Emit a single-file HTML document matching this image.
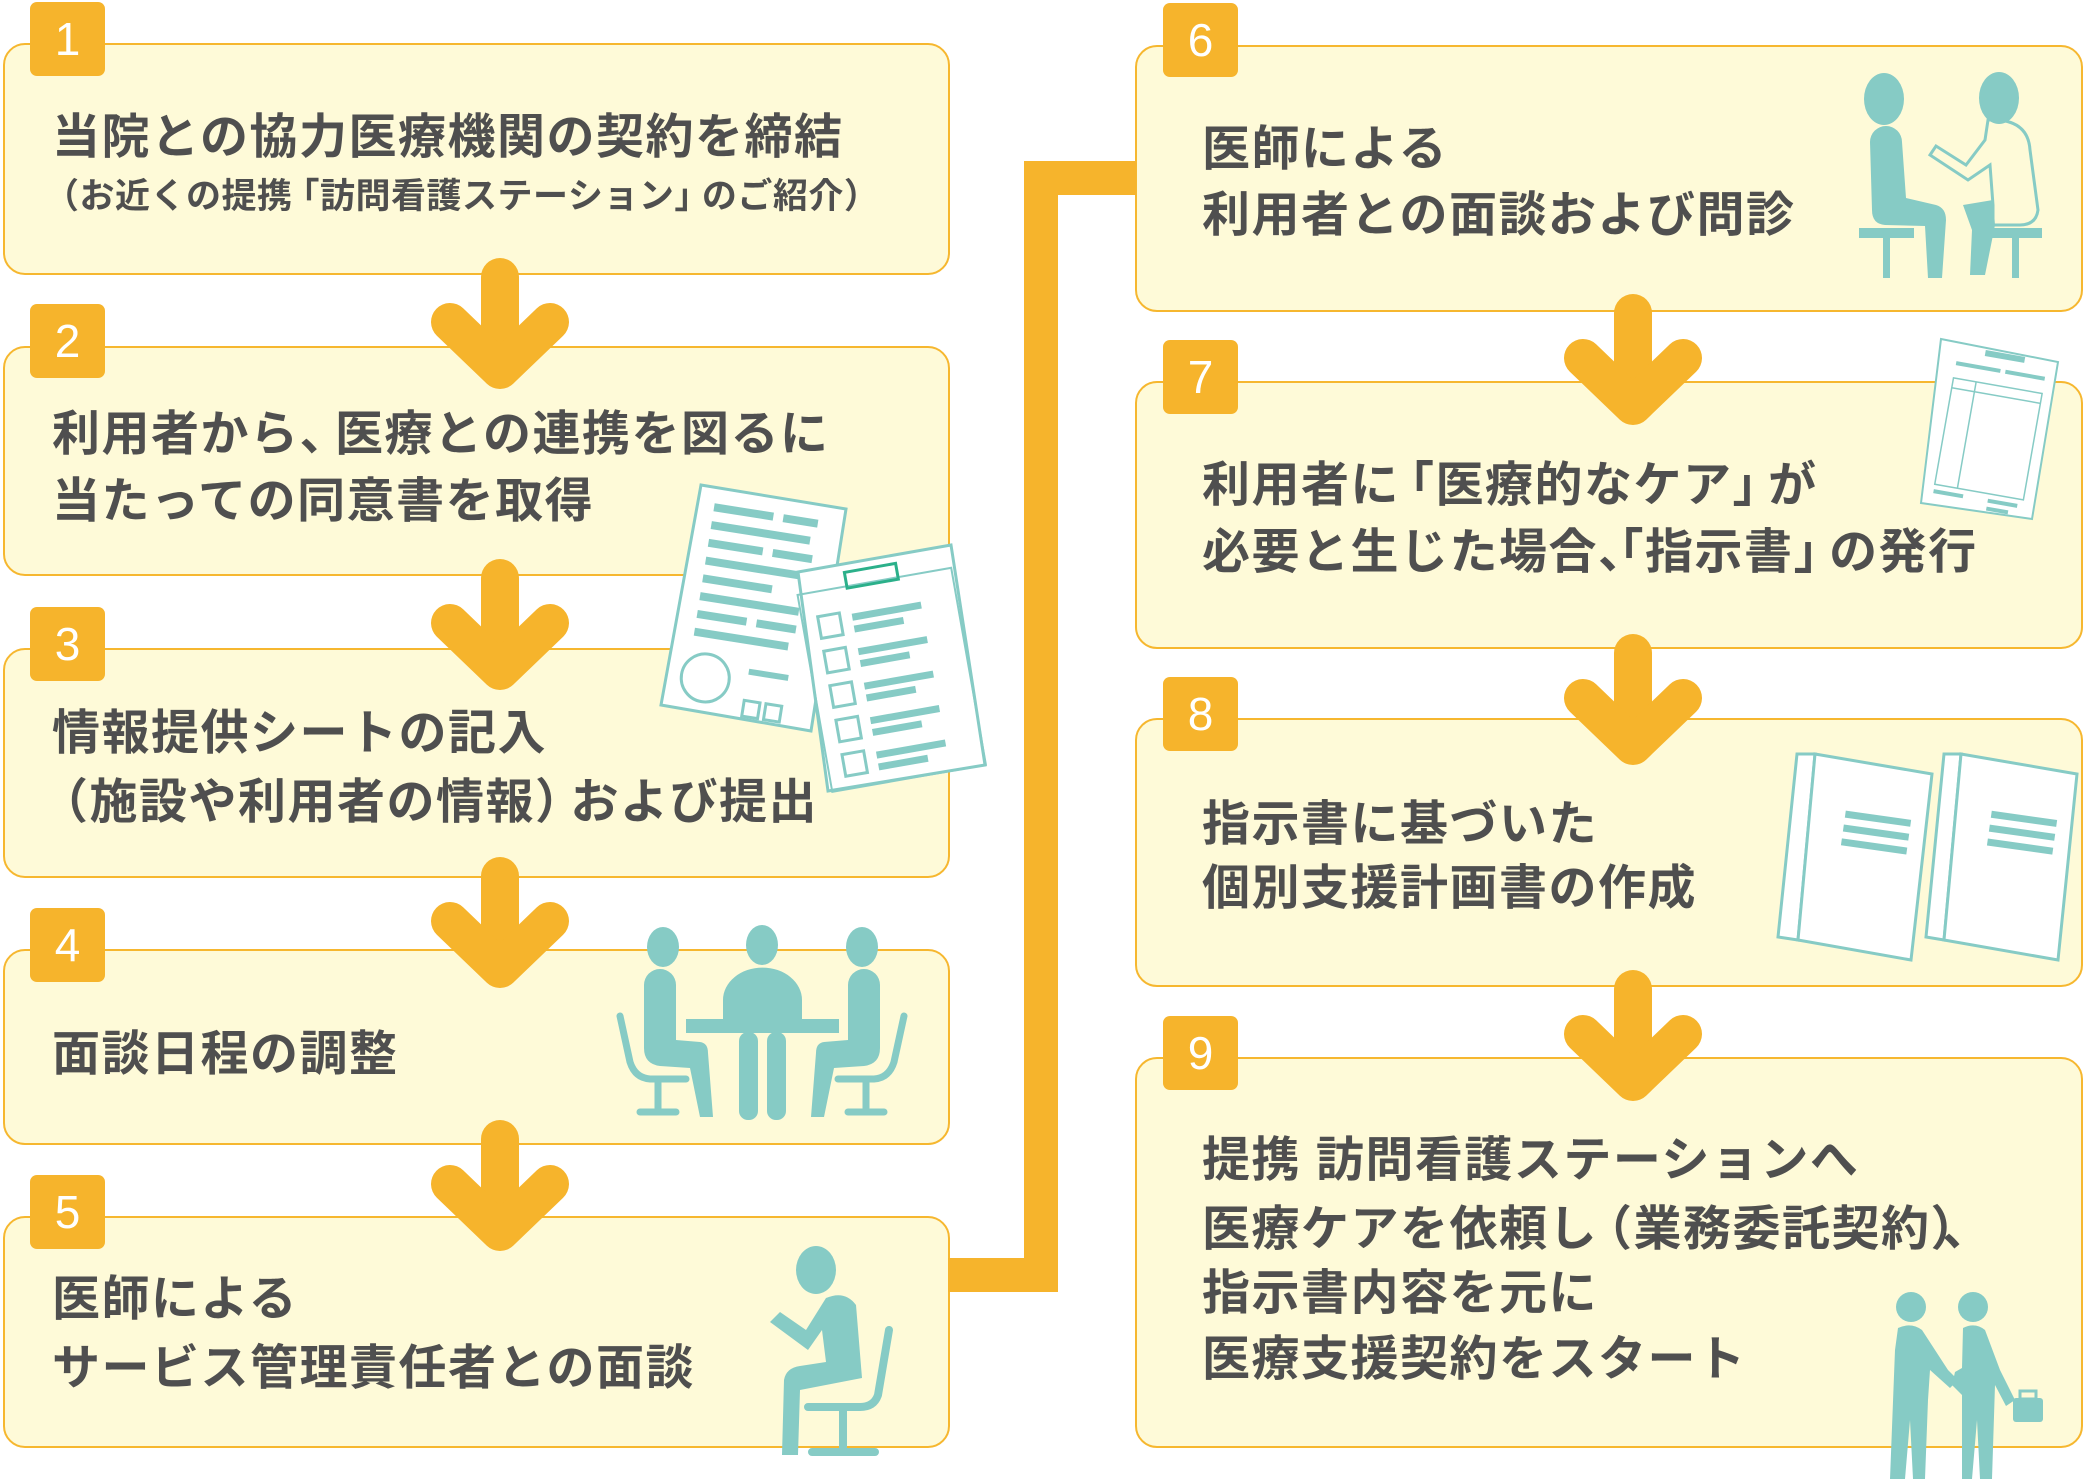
<!DOCTYPE html>
<html><head><meta charset="utf-8"><style>
body{margin:0;width:2085px;height:1483px;background:#fff;position:relative;overflow:hidden;font-family:"Liberation Sans","Noto Sans CJK JP",sans-serif;}
.box{position:absolute;background:#fefad8;border:2px solid #f6b72f;border-radius:22px;box-sizing:border-box;}
.bd{position:absolute;width:75px;height:74px;background:#f6b42c;border-radius:7px;color:#fff;font-size:46px;line-height:74px;text-align:center;font-family:"Liberation Sans",sans-serif;}
.t{position:absolute;height:66px;line-height:66px;font-size:48px;font-weight:bold;color:#4f4f4f;white-space:nowrap;letter-spacing:1.5px;}
.s{font-size:35px;letter-spacing:0.5px;}
.o{margin-left:-14px;}
.c{margin-right:-14px;}
.s .o{margin-left:-8px;}
.s .c{margin-right:-8px;}
svg{position:absolute;left:0;top:0;}
</style></head><body>
<div class="box" style="left:3px;top:43px;width:947px;height:232px"></div>
<div class="box" style="left:3px;top:346px;width:947px;height:230px"></div>
<div class="box" style="left:3px;top:648px;width:947px;height:230px"></div>
<div class="box" style="left:3px;top:949px;width:947px;height:196px"></div>
<div class="box" style="left:3px;top:1216px;width:947px;height:232px"></div>
<div class="box" style="left:1135px;top:45px;width:948px;height:267px"></div>
<div class="box" style="left:1135px;top:381px;width:948px;height:268px"></div>
<div class="box" style="left:1135px;top:718px;width:948px;height:269px"></div>
<div class="box" style="left:1135px;top:1057px;width:948px;height:391px"></div>

<div class="bd" style="left:30px;top:2px">1</div>
<div class="bd" style="left:30px;top:304px">2</div>
<div class="bd" style="left:30px;top:607px">3</div>
<div class="bd" style="left:30px;top:908px">4</div>
<div class="bd" style="left:30px;top:1175px">5</div>
<div class="bd" style="left:1163px;top:3px">6</div>
<div class="bd" style="left:1163px;top:340px">7</div>
<div class="bd" style="left:1163px;top:677px">8</div>
<div class="bd" style="left:1163px;top:1016px">9</div>

<div class="t" style="left:52px;top:105px">当院との協力医療機関の契約を締結</div>
<div class="t s" style="left:44px;top:164px">（お近くの提携<span class="o">「</span>訪問看護ステーション<span class="c">」</span>のご紹介）</div>
<div class="t" style="left:52px;top:402px">利用者から<span class="c">、</span>医療との連携を図るに</div>
<div class="t" style="left:52px;top:469px">当たっての同意書を取得</div>
<div class="t" style="left:52px;top:701px">情報提供シートの記入</div>
<div class="t" style="left:40px;top:770px">（施設や利用者の情報<span class="c">）</span>および提出</div>
<div class="t" style="left:52px;top:1022px">面談日程の調整</div>
<div class="t" style="left:52px;top:1267px">医師による</div>
<div class="t" style="left:52px;top:1336px">サービス管理責任者との面談</div>
<div class="t" style="left:1202px;top:117px">医師による</div>
<div class="t" style="left:1202px;top:183px">利用者との面談および問診</div>
<div class="t" style="left:1202px;top:453px">利用者に<span class="o">「</span>医療的なケア<span class="c">」</span>が</div>
<div class="t" style="left:1202px;top:520px">必要と生じた場合<span class="c">、</span><span class="o">「</span>指示書<span class="c">」</span>の発行</div>
<div class="t" style="left:1202px;top:792px">指示書に基づいた</div>
<div class="t" style="left:1202px;top:856px">個別支援計画書の作成</div>
<div class="t" style="left:1202px;top:1128px">提携 訪問看護ステーションへ</div>
<div class="t" style="left:1202px;top:1197px">医療ケアを依頼し<span class="o">（</span>業務委託契約<span class="c">）</span>、</div>
<div class="t" style="left:1202px;top:1261px">指示書内容を元に</div>
<div class="t" style="left:1202px;top:1327px">医療支援契約をスタート</div>

<svg width="2085" height="1483" viewBox="0 0 2085 1483">
<defs>
<g id="arr" fill="none" stroke="#f6b42c" stroke-width="38" stroke-linecap="round" stroke-linejoin="round">
<path d="M0,19 V110"/><path d="M-50,64 L0,112 L50,64"/>
</g>
</defs>
<path d="M948,1275 H1041 V178 H1136" fill="none" stroke="#f6b42c" stroke-width="34"/>
<use href="#arr" x="500" y="258"/>
<use href="#arr" x="500" y="559"/>
<use href="#arr" x="500" y="857"/>
<use href="#arr" x="500" y="1120"/>
<use href="#arr" x="1633" y="294"/>
<use href="#arr" x="1633" y="634"/>
<use href="#arr" x="1633" y="970"/>

<g fill="#86cbc5" stroke="none">
<polygon points="701,485 846,509 811,731 661,705" fill="#fff" stroke="#86cbc5" stroke-width="3"/>
<g transform="rotate(9 750 600)">
<rect x="700" y="510" width="60" height="8"/><rect x="770" y="510" width="35" height="8"/>
<rect x="700" y="528" width="100" height="8"/><rect x="700" y="546" width="55" height="8"/><rect x="765" y="546" width="40" height="8"/>
<rect x="700" y="564" width="100" height="8"/><rect x="700" y="582" width="70" height="8"/>
<rect x="700" y="600" width="100" height="8"/><rect x="700" y="618" width="50" height="8"/><rect x="760" y="618" width="40" height="8"/>
<rect x="700" y="636" width="95" height="8"/>
<circle cx="718" cy="684" r="24" fill="none" stroke="#86cbc5" stroke-width="3"/>
<rect x="760" y="668" width="40" height="6"/><rect x="760" y="700" width="16" height="16" fill="none" stroke="#86cbc5" stroke-width="3"/><rect x="782" y="700" width="16" height="16" fill="none" stroke="#86cbc5" stroke-width="3"/>
</g>
<polygon points="798,572 951,545 985,765 828,791" fill="#fff" stroke="#86cbc5" stroke-width="3"/>
<g transform="rotate(-10 890 670)">
<rect x="812" y="580" width="156" height="200" fill="none" stroke="#86cbc5" stroke-width="2"/>
<rect x="862" y="566" width="52" height="16" fill="none" stroke="#2bb08a" stroke-width="3"/>
<g fill="none" stroke="#86cbc5" stroke-width="3">
<rect x="828" y="605" width="22" height="22"/><rect x="828" y="640" width="22" height="22"/><rect x="828" y="675" width="22" height="22"/><rect x="828" y="710" width="22" height="22"/><rect x="828" y="745" width="22" height="22"/>
</g>
<rect x="862" y="608" width="70" height="7"/><rect x="862" y="620" width="50" height="7"/>
<rect x="862" y="643" width="70" height="7"/><rect x="862" y="655" width="50" height="7"/>
<rect x="862" y="678" width="70" height="7"/><rect x="862" y="690" width="50" height="7"/>
<rect x="862" y="713" width="70" height="7"/><rect x="862" y="725" width="50" height="7"/>
<rect x="862" y="748" width="70" height="7"/><rect x="862" y="760" width="50" height="7"/>
</g>
<ellipse cx="663" cy="947" rx="16" ry="20"/><ellipse cx="762" cy="945" rx="16" ry="20"/><ellipse cx="862" cy="947" rx="16" ry="20"/>
<rect x="686" y="1019" width="153" height="14"/>
<path d="M723,1019 V1000 A39,32 0 0 1 802,1000 V1019Z"/>
<rect x="739" y="1032" width="19" height="88" rx="9"/><rect x="767" y="1032" width="19" height="88" rx="9"/>
<path d="M644,985 A16,16 0 0 1 676,985 V1040 L700,1042 Q708,1043 708,1053 L713,1117 L700,1117 L690,1068 L660,1066 Q644,1064 644,1048Z"/>
<path d="M880,985 A16,16 0 0 0 848,985 V1040 L824,1042 Q816,1043 816,1053 L811,1117 L824,1117 L834,1068 L864,1066 Q880,1064 880,1048Z"/>
<g fill="none" stroke="#86cbc5" stroke-width="7" stroke-linecap="round">
<path d="M620,1016 L630,1062 Q635,1078 650,1079 H686"/><path d="M658,1080 V1110 M640,1112 H676"/>
<path d="M904,1016 L894,1062 Q889,1078 874,1079 H838"/><path d="M866,1080 V1110 M848,1112 H884"/>
</g>
<ellipse cx="816" cy="1270" rx="20" ry="24"/>
<path d="M826,1298 Q845,1290 856,1305 L862,1378 L800,1390 L798,1455 L782,1455 L784,1380 Q786,1368 800,1366 L826,1362 L822,1330 L808,1350 L770,1322 L780,1312 L806,1330Z"/>
<g fill="none" stroke="#86cbc5" stroke-width="8" stroke-linecap="round">
<path d="M889,1330 L878,1395 Q874,1407 860,1407 H808"/><path d="M843,1410 V1450 M812,1452 H875"/>
</g>
<ellipse cx="1884" cy="99" rx="20" ry="26"/><ellipse cx="1999" cy="98" rx="20" ry="26"/>
<path d="M1870,142 A16,16 0 0 1 1902,142 L1906,198 L1936,205 Q1946,208 1946,220 L1942,278 L1928,278 L1925,226 L1885,225 Q1872,224 1872,210Z"/>
<rect x="1859" y="228" width="55" height="10"/><rect x="1883" y="238" width="7" height="40"/>
<rect x="1985" y="228" width="57" height="10"/><rect x="2012" y="238" width="7" height="40"/>
<path d="M1988,120 Q2028,118 2030,150 L2038,210 Q2036,225 2020,225 H1993 V205 L1990,165 L1968,180 L1930,155 L1936,146 L1966,165 L1985,140Z" fill="none" stroke="#86cbc5" stroke-width="3"/>
<path d="M1963,205 L1993,200 L1995,225 L1985,275 L1970,275 L1972,230Z"/>
<polygon points="1941,339 2058,362 2032,519 1921,503" fill="#fff" stroke="#86cbc5" stroke-width="2"/>
<g transform="rotate(10 1990 430)">
<rect x="1972" y="352" width="40" height="6"/><rect x="1945" y="368" width="45" height="4"/><rect x="1995" y="368" width="40" height="4"/>
<rect x="1945" y="385" width="90" height="108" fill="none" stroke="#86cbc5" stroke-width="1.5"/>
<path d="M1945,395 H2035 M1968,385 V493" stroke="#86cbc5" stroke-width="1.5"/>
<rect x="1945" y="498" width="30" height="4"/><rect x="2000" y="498" width="30" height="4"/><rect x="2000" y="506" width="22" height="4"/>
</g>
<g fill="#fff" stroke="#86cbc5" stroke-width="3">
<polygon points="1797,754 1815,754 1798,940 1778,937"/>
<polygon points="1815,754 1932,774 1911,960 1798,940"/>
<polygon points="1944,754 1961,754 1944,940 1926,937"/>
<polygon points="1961,754 2077,774 2058,960 1944,940"/>
</g>
<g transform="rotate(8 1875 840)"><rect x="1842" y="815" width="66" height="7"/><rect x="1842" y="829" width="66" height="7"/><rect x="1842" y="843" width="66" height="7"/></g>
<g transform="rotate(8 2020 840)"><rect x="1988" y="815" width="66" height="7"/><rect x="1988" y="829" width="66" height="7"/><rect x="1988" y="843" width="66" height="7"/></g>
<circle cx="1911" cy="1307" r="15"/><circle cx="1973" cy="1307" r="15"/>
<path d="M1898,1328 Q1911,1322 1922,1330 L1948,1370 L1958,1380 L1950,1388 L1930,1370 L1928,1400 L1925,1479 L1913,1479 L1910,1420 L1905,1479 L1890,1479 L1895,1350Z"/>
<path d="M1963,1328 Q1975,1322 1985,1330 L2000,1370 L2015,1400 L2006,1406 L1995,1385 L1992,1479 L1980,1479 L1977,1420 L1972,1479 L1962,1479 L1962,1395 L1952,1385 L1955,1372 L1962,1368Z"/>
<rect x="2013" y="1398" width="30" height="24" rx="3"/><rect x="2020" y="1391" width="16" height="8" fill="none" stroke="#86cbc5" stroke-width="3"/>
</g>
</svg>
</body></html>
